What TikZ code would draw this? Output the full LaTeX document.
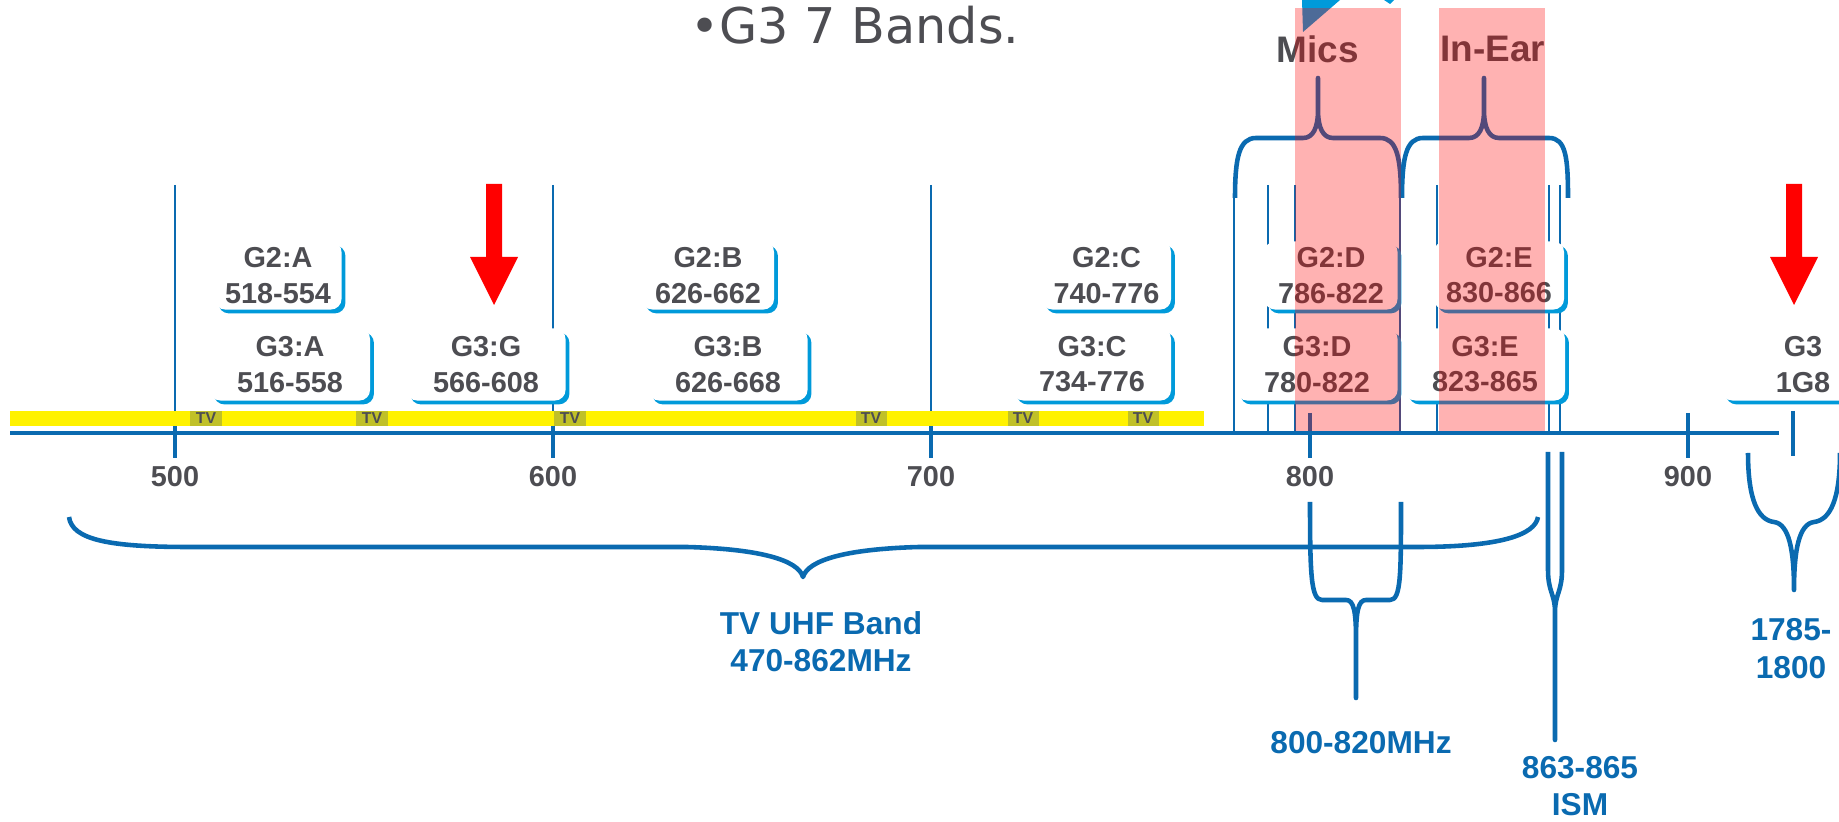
\documentclass[tikz,border=0pt]{standalone}
\usepackage{fontspec}
\setmainfont{Liberation Sans}
\newfontfamily\headfam{DejaVu Sans}
\usepackage{xcolor}
\usetikzlibrary{positioning, shadows}

\definecolor{axisblue}{RGB}{10,106,176}
\definecolor{boxblue}{RGB}{0,154,218}
\definecolor{labelgray}{RGB}{77,77,82}
\definecolor{tvolive}{RGB}{192,192,40}

\newcommand{\bandtxt}{\fontsize{8.2}{10}\selectfont\bfseries}
\newcommand{\rangetxt}{\fontsize{9}{10.6}\selectfont\bfseries}
\newcommand{\tvtxt}{\fontsize{4.5}{5}\selectfont\bfseries}

\begin{document}
\begin{tikzpicture}[
    x=0.01cm, y=-0.01cm,
    bandbox/.style={fill=white, rounded corners=3pt, align=center, inner sep=0pt,
        text=labelgray, font=\bandtxt,
        drop shadow={shadow xshift=1.1pt, shadow yshift=-1.1pt, fill=boxblue, opacity=1}},
    ticklabel/.style={text=labelgray, font=\bandtxt, inner sep=0pt},
    toplabel/.style={text=labelgray, font=\fontsize{10.5}{12}\selectfont\bfseries, inner sep=0pt},
    rangelabel/.style={text=axisblue, font=\rangetxt, align=center, inner sep=0pt},
    tvmark/.style={fill=tvolive, text=labelgray, font=\tvtxt, inner sep=0pt,
        minimum width=0.31cm, minimum height=0.15cm},
    bandline/.style={axisblue, line width=0.5pt},
    majortick/.style={axisblue, line width=1.1pt},
    bracket/.style={axisblue, line width=1.3pt, line join=round},
    useband/.style={fill=red, fill opacity=0.3},
    redarrow/.pic={\fill[red] (-8,0) -- (8,0) -- (8,73) -- (24,73) -- (0,121)
        -- (-24,73) -- (-8,73) -- cycle;}
]
    \useasboundingbox (0,0) rectangle (1839,822);

    % Callout tip at the top
    \fill[boxblue] (1302,0) -- (1340,0) -- (1303,32) -- cycle;
    \fill[boxblue] (1384,0) -- (1394,0) -- (1390,4) -- cycle;

    % Band edges
    \foreach \px in {175, 553, 931, 1268, 1295, 1437, 1549, 1560}
        \draw[bandline] (\px,185) -- (\px,433);
    \foreach \px in {1234, 1400}
        \draw[bandline] (\px,198) -- (\px,433);

    % Frequency axis
    \foreach \f/\px in {500/175, 600/553, 700/931, 800/1310, 900/1688} {
        \draw[majortick] (\px,413) -- (\px,458);
        \node[ticklabel] (lbl\f) at (\px,477) {\f};
    }
    \draw[majortick] (1793,411) -- (1793,456);

    % TV channels
    \fill[yellow] (10,411) rectangle (1204,426);
    \foreach \px [count=\i] in {206, 372, 570, 871, 1023, 1143}
        \node[tvmark] (tv\i) at (\px,418.5) {TV};
    \draw[majortick] (10,433) -- (1779,433);

    % G2 bands
    \node[bandbox, minimum width=1.27cm, minimum height=0.68cm] (g2a) at (278,275.5) {G2:A\\518-554};
    \node[bandbox, minimum width=1.32cm, minimum height=0.68cm] (g2b) at (708,275.5) {G2:B\\626-662};
    \node[bandbox, minimum width=1.29cm, minimum height=0.68cm] (g2c) at (1106.5,275.5) {G2:C\\740-776};
    \node[bandbox, minimum width=1.33cm, minimum height=0.68cm] (g2d) at (1331,275.5) {G2:D\\786-822};
    \node[bandbox, minimum width=1.30cm, minimum height=0.68cm] (g2e) at (1499,275.5) {G2:E\\830-866};

    % G3 bands
    \node[bandbox, minimum width=1.60cm, minimum height=0.72cm] (g3a) at (290,364.5) {G3:A\\516-558};
    \node[bandbox, minimum width=1.59cm, minimum height=0.72cm] (g3g) at (486,364.5) {G3:G\\566-608};
    \node[bandbox, minimum width=1.59cm, minimum height=0.72cm] (g3b) at (728,364.5) {G3:B\\626-668};
    \node[bandbox, minimum width=1.58cm, minimum height=0.72cm] (g3c) at (1092,364.5) {G3:C\\734-776};
    \node[bandbox, minimum width=1.61cm, minimum height=0.72cm] (g3d) at (1317,364.5) {G3:D\\780-822};
    \node[bandbox, minimum width=1.60cm, minimum height=0.72cm] (g3e) at (1485,364.5) {G3:E\\823-865};
    \node[bandbox, minimum width=1.62cm, minimum height=0.72cm] (g3h) at (1803,364.5) {G3\\1G8};

    % New bands
    \pic at (494,184) {redarrow};
    \pic at (1794,184) {redarrow};

    % Mics and In-Ear
    \draw[bracket] (1235,198) .. controls (1235,158) and (1239,138) .. (1256,138) -- (1303,138)
        .. controls (1313,138) and (1318,128) .. (1318,110) -- (1318,78) -- (1318,110)
        .. controls (1318,128) and (1323,138) .. (1333,138) -- (1380,138)
        .. controls (1397,138) and (1401,158) .. (1401,198);
    \draw[bracket] (1402,198) .. controls (1402,158) and (1406,138) .. (1423,138) -- (1469,138)
        .. controls (1479,138) and (1484,128) .. (1484,110) -- (1484,78) -- (1484,110)
        .. controls (1484,128) and (1489,138) .. (1499,138) -- (1549,138)
        .. controls (1566,138) and (1568,158) .. (1568,198);
    \node[toplabel] (mics) at (1318,49) {Mics};
    \node[toplabel] (inear) at (1493,49) {In-Ear};

    % Ranges below the axis
    \draw[bracket] (69,517) .. controls (72,540) and (110,547) .. (189,547) -- (687,547)
        .. controls (760,549) and (798,560) .. (803,577)
        .. controls (808,560) and (846,549) .. (919,547) -- (1417,547)
        .. controls (1500,547) and (1535,535) .. (1538,517);
    \draw[bracket] (1310,502) .. controls (1310,575) and (1311,600) .. (1322,600) -- (1346,600)
        .. controls (1354,600) and (1356,612) .. (1356,640) -- (1356,698) -- (1356,640)
        .. controls (1356,612) and (1358,600) .. (1366,600) -- (1390,600)
        .. controls (1401,600) and (1401,575) .. (1401,502);
    \draw[bracket] (1548,452) -- (1548,570) .. controls (1548,592) and (1555,594) .. (1555,612)
        -- (1555,740) -- (1555,612) .. controls (1555,594) and (1562,592) .. (1562,570) -- (1562,452);
    \draw[bracket] (1748,453) .. controls (1748,500) and (1758,520) .. (1774,522)
        .. controls (1789,524) and (1794,550) .. (1794,590)
        .. controls (1794,550) and (1799,524) .. (1814,522)
        .. controls (1830,520) and (1840,500) .. (1840,453);

    \node[rangelabel] (tvuhf) at (821,641.5) {TV UHF Band\\470-862MHz};
    \node[rangelabel] (eu800) at (1361,743) {800-820MHz};
    \node[rangelabel] (ism) at (1580,786) {863-865\\ISM};
    \node[rangelabel] (gsm) at (1791,648.5) {1785-\\1800};

    % Title
    \node[text=labelgray, font=\headfam\fontsize{14}{16}\selectfont, anchor=base, inner sep=0pt]
        (title) at (855,44) {•G3 7 Bands.};

    % Used bands
    \path[useband] (1295,8) rectangle (1401,431);
    \path[useband] (1439,8) rectangle (1545,431);
\end{tikzpicture}
\end{document}
